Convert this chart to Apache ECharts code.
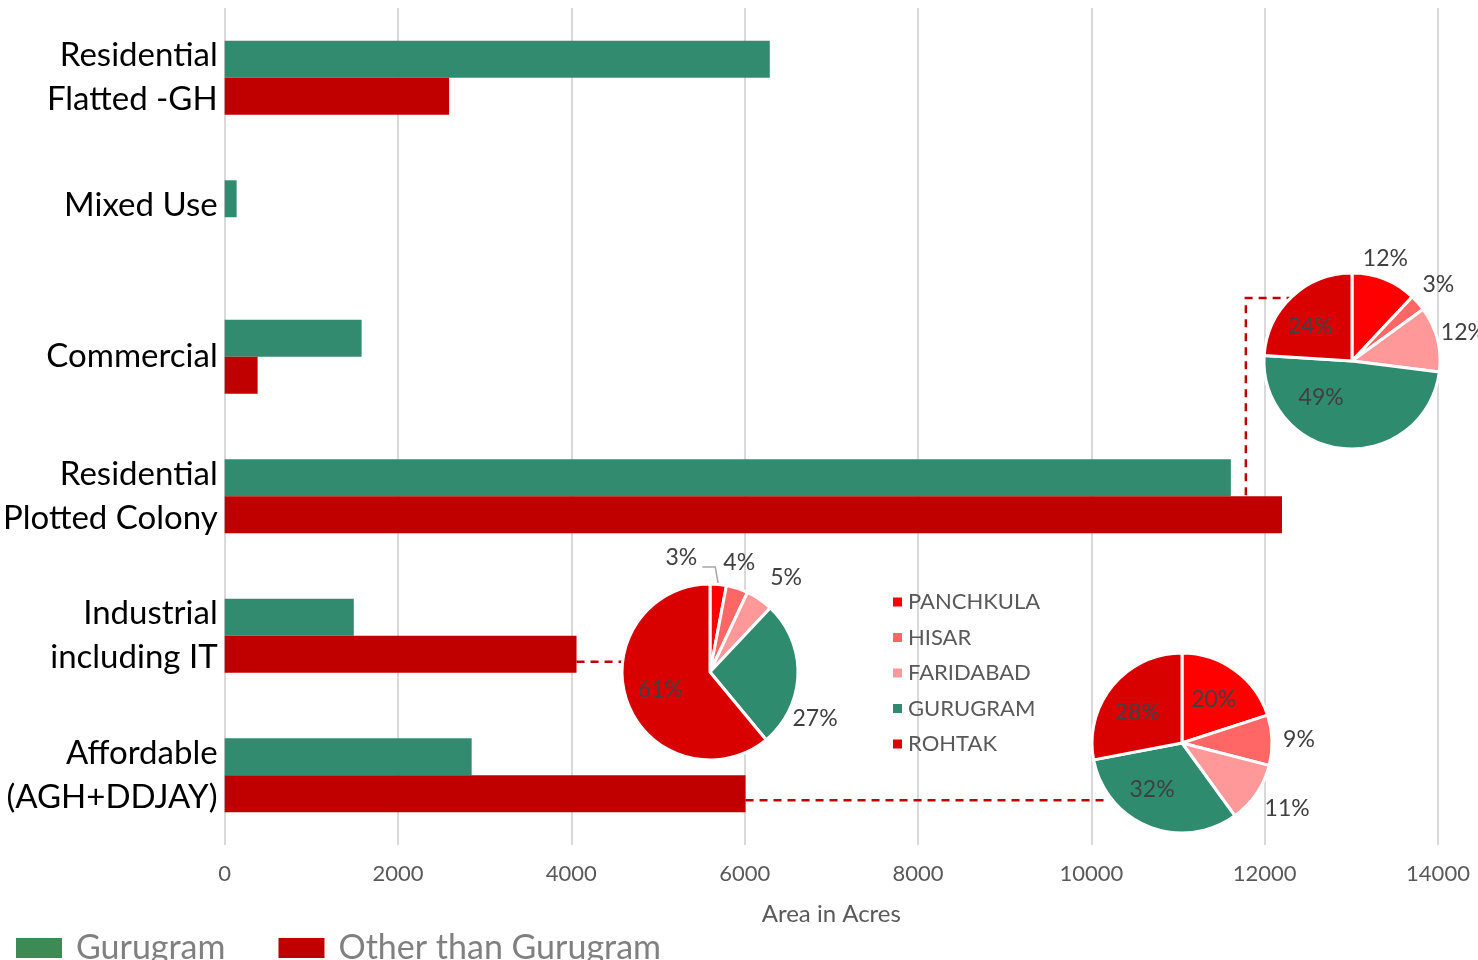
<!DOCTYPE html>
<html><head><meta charset="utf-8">
<script src="https://cdn.jsdelivr.net/npm/echarts@6/dist/echarts.min.js"></script>
<style>html,body{margin:0;padding:0;background:#fff}#c{width:1478px;height:960px}</style>
</head><body><div id="c"></div>
<script>
const categories = ['Residential\nFlatted -GH', 'Mixed Use', 'Commercial', 'Residential\nPlotted Colony', 'Industrial\nincluding IT', 'Affordable\n(AGH+DDJAY)'];
const gurugramArea = [6290, 138, 1580, 11610, 1490, 2850];
const otherArea = [2590, 0, 380, 12200, 4060, 6010];
const xTicks = [0, 2000, 4000, 6000, 8000, 10000, 12000, 14000];
const districts = ['PANCHKULA', 'HISAR', 'FARIDABAD', 'GURUGRAM', 'ROHTAK'];
const plottedShares = [12, 3, 12, 49, 24];
const industrialShares = [3, 4, 5, 27, 61];
const affordableShares = [20, 9, 11, 32, 28];

const FONT = 'Lato, "Noto Sans", sans-serif';
const GREEN = '#338b6f', RED = '#c00000';
const districtColors = ['#ff0000', '#ff6666', '#ff9999', '#2e8b6e', '#d90000'];

// pie layout configuration (layout only, not data): label angle/distance tweaks
const pieCfgs = [
  { shares: plottedShares, center: [1352, 361], r: 88, inside: [3, 4], leader: null,
    tweak: { 0: { a: 18, d: 108 }, 3: { a: 220, d: 48 }, 4: { a: 309, d: 54 } } },
  { shares: industrialShares, center: [710, 672], r: 88, inside: [4], leader: 0,
    tweak: { 1: { a: 15, d: 113 }, 2: { a: 39, d: 121 }, 3: { a: 114 } } },
  { shares: affordableShares, center: [1182, 743], r: 90, inside: [0, 3, 4], leader: null,
    tweak: { 2: { a: 122, d: 124 }, 3: { a: 213, d: 55 }, 4: { a: 304, d: 54 } } }
];

function makeLayout(cfg) {
  const total = cfg.shares.reduce((a, b) => a + b, 0);
  return function (p) {
    const i = p.dataIndex;
    let cum = 0;
    for (let k = 0; k < i; k++) cum += cfg.shares[k];
    const midA = (cum + cfg.shares[i] / 2) / total * 360;
    const [cx, cy] = cfg.center;
    if (cfg.leader === i) {
      const rad = midA * Math.PI / 180;
      const q0 = [cx + cfg.r * Math.sin(rad), cy - cfg.r * Math.cos(rad)];
      const q1 = [q0[0] - 3, cy - cfg.r - 17];
      const q2 = [q1[0] - 13, q1[1]];
      return { x: q2[0] - 5, y: q2[1] - 9, align: 'right', verticalAlign: 'middle', labelLinePoints: [q0, q1, q2] };
    }
    const t = cfg.tweak[i] || {};
    const ang = (t.a !== undefined ? t.a : midA) * Math.PI / 180;
    const inside = cfg.inside.includes(i);
    const d = t.d !== undefined ? t.d : (inside ? 0.6 * cfg.r : cfg.r + 27);
    return { x: cx + d * Math.sin(ang), y: cy - d * Math.cos(ang), align: 'center', verticalAlign: 'middle' };
  };
}

function pieSeries(cfg) {
  return {
    type: 'pie', radius: cfg.r, center: cfg.center, startAngle: 90, clockwise: true, z: 5,
    itemStyle: { borderColor: '#fff', borderWidth: 3 },
    label: { formatter: '{c}%', color: '#404040', fontSize: 23, fontFamily: FONT },
    labelLine: { show: false, length: 6, length2: 4, lineStyle: { color: '#a6a6a6', width: 1.5 } },
    emphasis: { disabled: true }, avoidLabelOverlap: false,
    labelLayout: makeLayout(cfg),
    data: districts.map((d, i) => ({
      name: d, value: cfg.shares[i],
      itemStyle: { color: districtColors[i] },
      label: { position: cfg.inside.includes(i) ? 'inside' : 'outside' },
      labelLine: { show: cfg.leader === i }
    }))
  };
}

const chart = echarts.init(document.getElementById('c'));
const option = {
  animation: false,
  textStyle: { fontFamily: FONT },
  grid: { left: 224, right: 40, top: 8, bottom: 115 },
  legend: [
    { data: [{ name: 'Gurugram', itemStyle: { color: '#3e8a55' } }, { name: 'Other than Gurugram', itemStyle: { color: RED } }],
      left: 11, top: 926, itemWidth: 46, itemHeight: 20, itemGap: 53, icon: 'rect',
      textStyle: { fontSize: 34, color: '#808080', fontFamily: FONT, padding: [0, 0, 0, 9] } },
    { data: districts, orient: 'vertical', left: 886, top: 586, itemWidth: 11, itemHeight: 11, itemGap: 13.5, icon: 'rect',
      textStyle: { fontSize: 22, color: '#595959', fontFamily: FONT } }
  ],
  xAxis: {
    type: 'value', min: xTicks[0], max: xTicks[xTicks.length - 1], interval: xTicks[1] - xTicks[0],
    axisLine: { show: false }, axisTick: { show: false },
    splitLine: { lineStyle: { color: '#d9d9d9', width: 2 } },
    axisLabel: { fontSize: 22, color: '#595959', margin: 18, formatter: v => String(v) },
    name: 'Area in Acres', nameLocation: 'middle', nameGap: 57,
    nameTextStyle: { fontSize: 24, color: '#595959' }
  },
  yAxis: {
    type: 'category', inverse: true, data: categories,
    axisLine: { show: false }, axisTick: { show: false },
    axisLabel: {
      fontSize: 33, color: '#000', lineHeight: 44, margin: 7,
      formatter: v => v === 'Mixed Use' ? '{up|' + v + '}' : v,
      rich: { up: { fontSize: 33, color: '#000', lineHeight: 44, padding: [0, 0, 24, 0] } }
    }
  },
  series: [
    { name: 'Gurugram', type: 'bar', data: gurugramArea, itemStyle: { color: GREEN }, barGap: '0%', barCategoryGap: '47%' },
    { name: 'Other than Gurugram', type: 'bar', data: otherArea, itemStyle: { color: RED }, barGap: '0%', barCategoryGap: '47%' }
  ].concat(pieCfgs.map(pieSeries))
};
chart.setOption(option);

// dashed connectors from bar ends to pies
function px(v, cat) { return chart.convertToPixel({ gridIndex: 0 }, [v, cat]); }
const dash = { stroke: RED, lineWidth: 2.5, lineDash: [8, 6], fill: null };
const e1 = px(otherArea[3], 3), e2 = px(otherArea[4], 4), e3 = px(otherArea[5], 5);
const g1 = px(gurugramArea[3], 3);
const pTop = pieCfgs[0], pMid = pieCfgs[1], pBot = pieCfgs[2];
chart.setOption({ graphic: [
  { type: 'polyline', z: 1, shape: { points: [[g1[0] + 15, e1[1] - 1], [g1[0] + 15, pTop.center[1] - 63], [pTop.center[0] - 62, pTop.center[1] - 63]] }, style: dash },
  { type: 'polyline', z: 1, shape: { points: [[e2[0], e2[1] + 26], [pMid.center[0] - pMid.r, e2[1] + 26]] }, style: dash },
  { type: 'polyline', z: 1, shape: { points: [[e3[0], e3[1] + 25], [pBot.center[0] - 77, e3[1] + 25]] }, style: dash }
] });
</script></body></html>
